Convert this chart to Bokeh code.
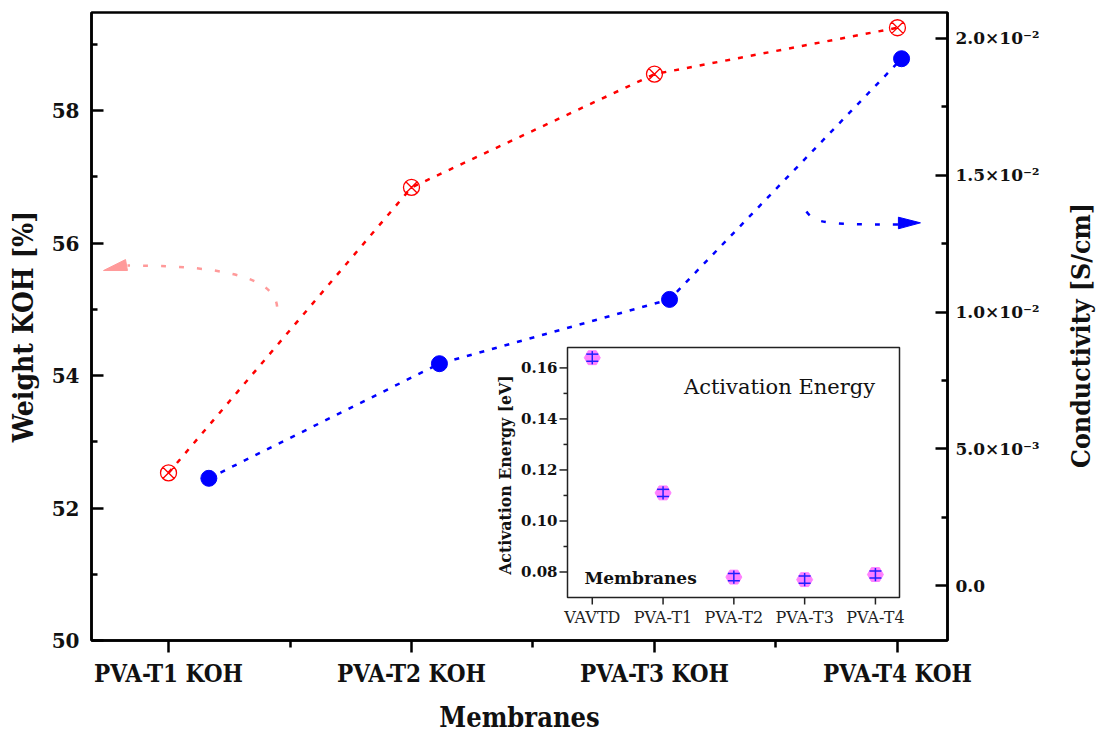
import math
from bokeh.plotting import figure
from bokeh.layouts import row
from bokeh.models import (Range1d, LinearAxis, FixedTicker, CustomJSTickFormatter,
                          ColumnDataSource)
from bokeh.core.properties import value
from bokeh.embed import file_html
from bokeh.resources import INLINE

# ---------------- data ----------------
categories = ["PVA-T1 KOH", "PVA-T2 KOH", "PVA-T3 KOH", "PVA-T4 KOH"]
cat_pos = [1, 2, 3, 4]
weight_koh = [52.53, 56.84, 58.55, 59.25]
cond_x = [1.166, 2.115, 3.062, 4.017]
conductivity = [0.00392, 0.00811, 0.01046, 0.01926]

left_ticks = [50, 52, 54, 56, 58]
cond_ticks = [0.0, 0.005, 0.010, 0.015, 0.020]
cond_tick_labels = ["0.0", "5.0×10⁻³", "1.0×10⁻²", "1.5×10⁻²", "2.0×10⁻²"]

inset_cats = ["VAVTD", "PVA-T1", "PVA-T2", "PVA-T3", "PVA-T4"]
inset_pos = [1, 2, 3, 4, 5]
act_energy = [0.1640, 0.1110, 0.0780, 0.0770, 0.0790]
act_err = [0.0014, 0.0014, 0.0014, 0.0014, 0.0014]
act_bar = [0.0026, 0.0026, 0.0026, 0.0026, 0.0026]
inset_y_ticks = [0.08, 0.10, 0.12, 0.14, 0.16]
inset_y_labels = ["0.08", "0.10", "0.12", "0.14", "0.16"]
inset_y_minor = [0.09, 0.11, 0.13, 0.15]

# ---------------- layout ----------------
FW, FH = 856, 628
ML, MT, MR = 91, 12, 116
IL, IR, IT, IB = 476, 808, 335, 585          # inset box in frame pixels
ix0, ix1 = 0.65, 5.34
iy0, iy1 = 0.07, 0.168
sx = (ix1 - ix0) / (IR - IL)
sy = (iy1 - iy0) / (IB - IT)

NUM = "DejaVu Serif"
COND = "DejaVu Serif Condensed"

p = figure(frame_width=FW, frame_height=FH,
           x_range=Range1d(0.683, 4.206), y_range=Range1d(50, 59.48),
           output_backend="svg", toolbar_location=None,
           min_border_left=ML, min_border_right=MR,
           min_border_top=MT, min_border_bottom=0)
p.extra_y_ranges = {"cond": Range1d(-0.00201, 0.02095),
                    "iy": Range1d(iy0 - (FH - IB) * sy, iy1 + IT * sy)}
p.extra_x_ranges = {"ix": Range1d(ix0 - IL * sx, ix1 + (FW - IR) * sx)}
p.grid.visible = False
p.outline_line_color = "black"
p.outline_line_width = 2.5
p.outline_line_alpha = 1.0
p.background_fill_color = "white"
p.border_fill_color = "white"

# bottom axis
xa = p.xaxis[0]
xa.ticker = FixedTicker(ticks=cat_pos, minor_ticks=[1.5, 2.5, 3.5])
xa.formatter = CustomJSTickFormatter(args=dict(lbls=categories),
                                     code="return lbls[Math.round(tick) - 1] || '';")
xa.axis_label = "Membranes"
xa.major_tick_in = 0
xa.major_tick_out = 12
xa.minor_tick_in = 0
xa.minor_tick_out = 7
xa.major_label_standoff = 6
xa.axis_label_standoff = 11

# left axis
ya = p.yaxis[0]
ya.ticker = FixedTicker(ticks=left_ticks, minor_ticks=[51, 53, 55, 57, 59])
ya.axis_label = "Weight KOH [%]"
ya.major_tick_in = 12
ya.major_tick_out = 0
ya.minor_tick_in = 6
ya.minor_tick_out = 0
ya.major_label_standoff = 12
ya.axis_label_standoff = 9

# right axis
ra = LinearAxis(y_range_name="cond",
                ticker=FixedTicker(ticks=cond_ticks,
                                   minor_ticks=[0.0025, 0.0075, 0.0125, 0.0175]),
                formatter=CustomJSTickFormatter(
                    args=dict(tks=cond_ticks, lbls=cond_tick_labels),
                    code="""let b = 0;
for (let i = 0; i < tks.length; i++) {
  if (Math.abs(tks[i] - tick) < Math.abs(tks[b] - tick)) b = i;
}
return lbls[b];"""))
ra.major_tick_in = 12
ra.major_tick_out = 0
ra.minor_tick_in = 6
ra.minor_tick_out = 0
ra.major_label_standoff = 8
p.add_layout(ra, "right")

for ax in [xa, ya, ra]:
    ax.axis_line_width = 2.5
    ax.axis_line_color = "black"
    ax.major_tick_line_width = 2.5
    ax.minor_tick_line_width = 2.5
    ax.major_tick_line_color = "black"
    ax.minor_tick_line_color = "black"
    ax.major_label_text_color = "#111111"
    ax.axis_label_text_color = "#111111"
    ax.axis_label_text_font = COND
    ax.axis_label_text_font_style = "bold"
    ax.axis_label_text_font_size = "27px"
ya.axis_label_text_font_size = "28px"

xa.major_label_text_font = COND
xa.major_label_text_font_style = "bold"
xa.major_label_text_font_size = "24px"
ya.major_label_text_font = NUM
ya.major_label_text_font_style = "bold"
ya.major_label_text_font_size = "20px"
ra.major_label_text_font = NUM
ra.major_label_text_font_style = "bold"
ra.major_label_text_font_size = "17px"

# ---------------- main series ----------------
p.line(cat_pos, weight_koh, line_color="red", line_width=2.5, line_dash="5 8")
p.scatter(cat_pos, weight_koh, marker="circle_x", size=16, line_color="red",
          fill_color=None, line_width=1.3)

p.line(cond_x, conductivity, y_range_name="cond", line_color="blue",
       line_width=2.5, line_dash="5 8")
p.scatter(cond_x, conductivity, y_range_name="cond", marker="circle", size=16,
          line_color="blue", fill_color="blue")

# ---------------- arrows (annotations) ----------------
p.bezier(x0=[1.447], y0=[55.04], cx0=[1.436], cy0=[55.40], cx1=[1.296], cy1=[55.665],
         x1=[0.831], y1=[55.66], line_color="#ff9a9a", line_width=2.5, line_dash="5 13")
p.patch([0.7325, 0.823, 0.831], [55.585, 55.75, 55.585], fill_color="#ff9a9a",
        line_color="#ff9a9a")

p.bezier(x0=[3.6255], y0=[0.013675], cx0=[3.66], cy0=[0.01322], cx1=[3.72], cy1=[0.01320],
         x1=[4.004], y1=[0.01320], y_range_name="cond", line_color="blue",
         line_width=2.5, line_dash="5 13")
p.patch([4.004, 4.0947, 4.004], [0.013466, 0.01326, 0.013042], y_range_name="cond",
        fill_color="blue", line_color="blue")

# ---------------- inset ----------------
p.quad(left=[ix0], right=[ix1], bottom=[iy0], top=[iy1], x_range_name="ix",
       y_range_name="iy", fill_color="white", line_color="#222222", line_width=1.5)

# inset y ticks
p.segment(x0=[ix0] * len(inset_y_ticks), x1=[ix0 - 8 * sx] * len(inset_y_ticks),
          y0=inset_y_ticks, y1=inset_y_ticks, x_range_name="ix", y_range_name="iy",
          line_color="#222222", line_width=1.5)
p.segment(x0=[ix0] * len(inset_y_minor), x1=[ix0 - 4 * sx] * len(inset_y_minor),
          y0=inset_y_minor, y1=inset_y_minor, x_range_name="ix", y_range_name="iy",
          line_color="#222222", line_width=1.5)
# inset x ticks
p.segment(x0=inset_pos, x1=inset_pos, y0=[iy0] * 5, y1=[iy0 - 7 * sy] * 5,
          x_range_name="ix", y_range_name="iy", line_color="#222222", line_width=1.5)

p.text(x=[ix0] * 5, y=inset_y_ticks, text=inset_y_labels, x_range_name="ix",
       y_range_name="iy", x_offset=-10, text_align="right", text_baseline="middle",
       text_font=value(NUM), text_font_style="bold", text_font_size=value("15px"),
       text_color="#111111")
p.text(x=inset_pos, y=[iy0] * 5, text=inset_cats, x_range_name="ix",
       y_range_name="iy", y_offset=10, text_align="center", text_baseline="top",
       text_font=value(NUM), text_font_size=value("16px"), text_color="#222222")
p.text(x=[ix0], y=[(iy0 + iy1) / 2 - 0.001],
       text=["Activation Energy [eV]"], x_range_name="ix", y_range_name="iy",
       x_offset=-63, angle=math.pi / 2, text_align="center", text_baseline="middle",
       text_font=value(COND), text_font_style="bold", text_font_size=value("17.5px"),
       text_color="#111111")
p.text(x=[3.645], y=[0.1527], text=["Activation Energy"], x_range_name="ix",
       y_range_name="iy", text_align="center", text_baseline="middle",
       text_font=value(NUM), text_font_size=value("21px"), text_color="#111111")
p.text(x=[0.89], y=[0.0778], text=["Membranes"], x_range_name="ix",
       y_range_name="iy", text_align="left", text_baseline="middle",
       text_font=value(NUM), text_font_style="bold", text_font_size=value("17px"),
       text_color="#111111")

# inset points with error bars
cap = 6 * sx
src = ColumnDataSource(dict(
    x=inset_pos, y=act_energy,
    xl=[x - cap for x in inset_pos], xr=[x + cap for x in inset_pos],
    up=[a + e for a, e in zip(act_energy, act_err)],
    lo=[a - e for a, e in zip(act_energy, act_err)],
    bt=[a + e for a, e in zip(act_energy, act_bar)],
    bb=[a - e for a, e in zip(act_energy, act_bar)]))
p.scatter("x", "y", source=src, marker="hex", size=16, fill_color="#ff80ff",
          line_color="#ff80ff", x_range_name="ix", y_range_name="iy")
p.segment(x0="x", x1="x", y0="bb", y1="bt", source=src, x_range_name="ix",
          y_range_name="iy", line_color="#2020ff", line_width=1.5)
p.segment(x0="xl", x1="xr", y0="up", y1="up", source=src, x_range_name="ix",
          y_range_name="iy", line_color="#2020ff", line_width=1.5)
p.segment(x0="xl", x1="xr", y0="lo", y1="lo", source=src, x_range_name="ix",
          y_range_name="iy", line_color="#2020ff", line_width=1.5)

# ---------------- right-hand title (reads bottom-to-top) ----------------
TW, QH = 34, 720
q = figure(title=None, frame_width=TW, frame_height=QH,
           x_range=Range1d(0, TW), y_range=Range1d(0, QH),
           output_backend="svg", toolbar_location=None,
           x_axis_type=None, y_axis_type=None,
           min_border_left=0, min_border_right=0, min_border_top=0, min_border_bottom=0)
q.grid.visible = False
q.outline_line_color = None
q.background_fill_color = "white"
q.border_fill_color = "white"
q.text(x=[17], y=[QH - 323], text=["Conductivity [S/cm]"], angle=math.pi / 2,
       text_align="center", text_baseline="middle", text_font=value(COND),
       text_font_style="bold", text_font_size=value("26.5px"), text_color="#111111")

layout = row(p, q, spacing=0)
open("out.html", "w").write(file_html(layout, INLINE))
